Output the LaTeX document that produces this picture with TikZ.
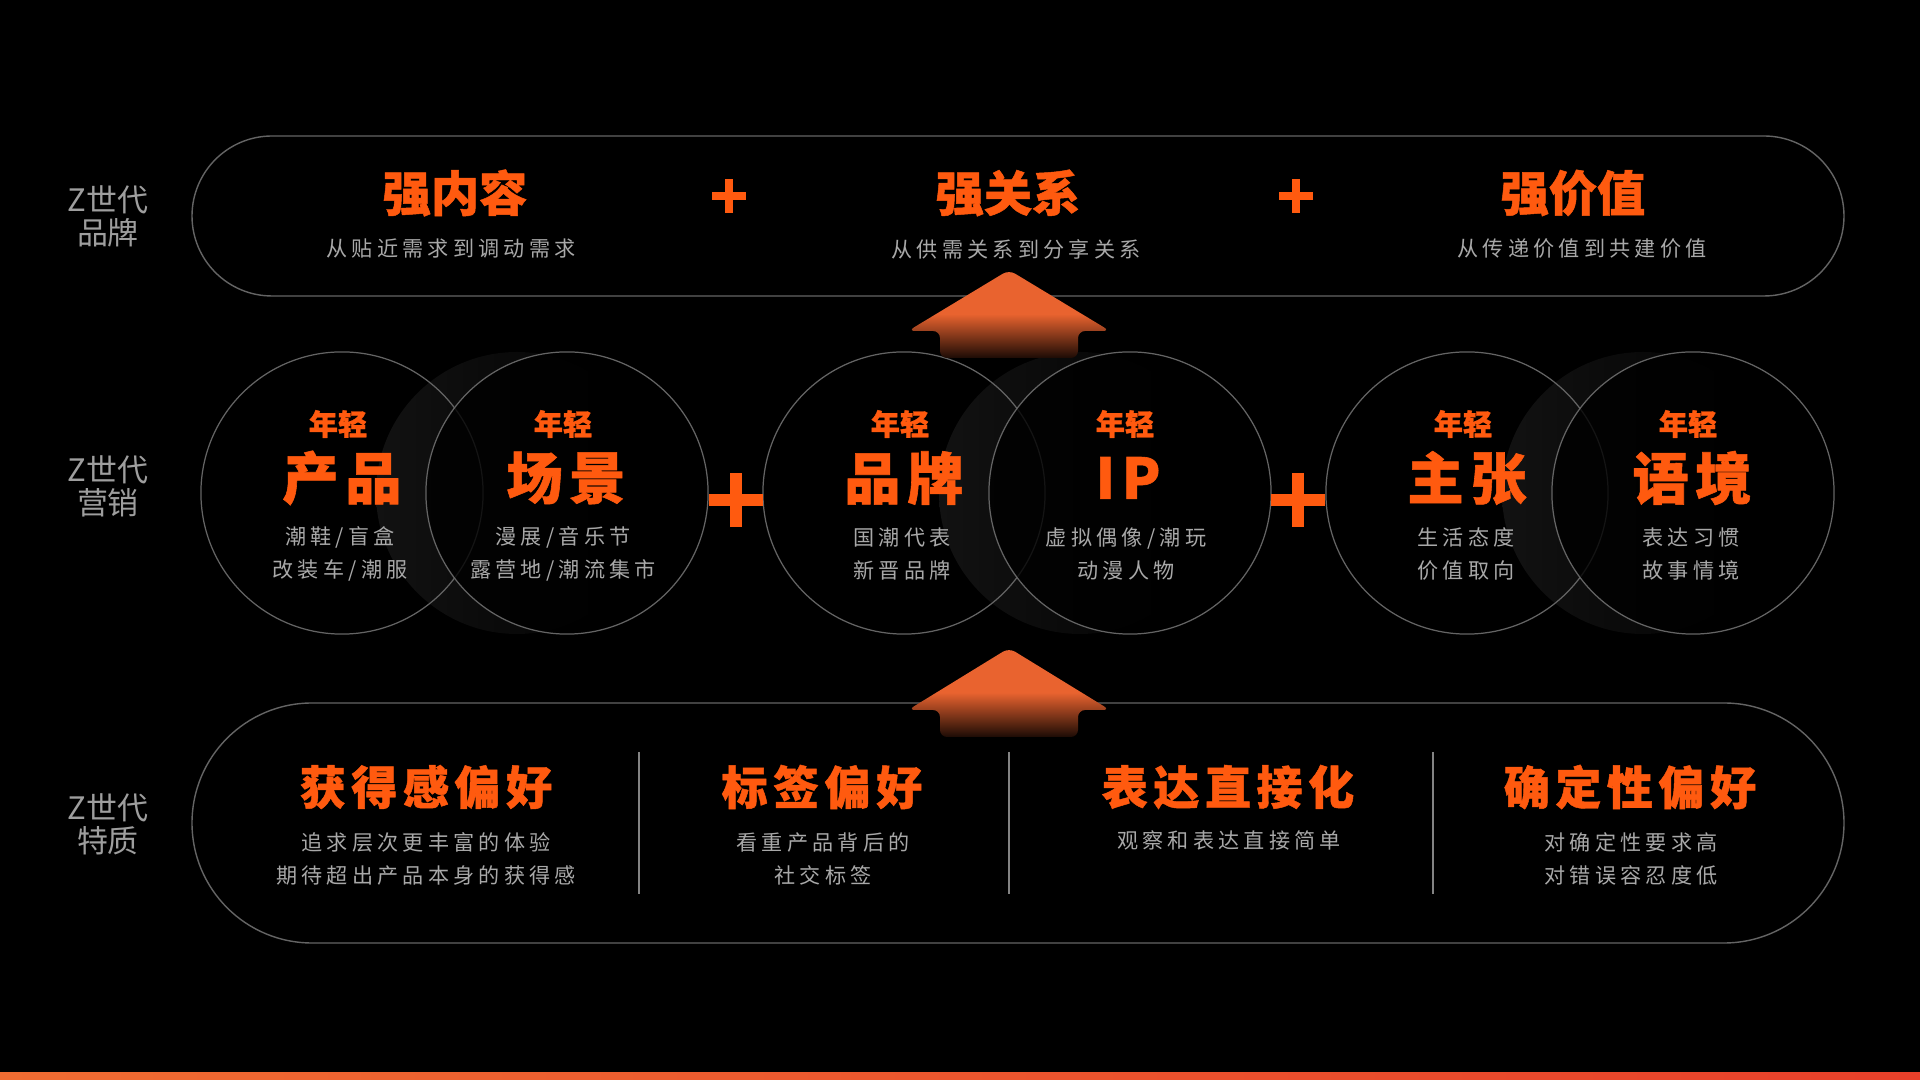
\documentclass[tikz,border=0pt]{standalone}
\usepackage{fontspec}
\newfontfamily\cjk{Noto Sans CJK SC}
\newfontfamily\cjkwide{Noto Sans CJK SC}[LetterSpace=20]
\newfontfamily\cjkheavy{Noto Sans CJK SC}[BoldFeatures={FakeBold=1}]
\newfontfamily\cjkmid{Noto Sans CJK SC}[LetterSpace=12, BoldFeatures={FakeBold=1}]
\definecolor{zorange}{HTML}{FF5A0F}
\definecolor{zarrow}{HTML}{E9632F}
\definecolor{zdark}{HTML}{1C0B05}
\definecolor{ztext}{HTML}{A8A8A8}
\definecolor{zlabel}{HTML}{9E9E9E}
\definecolor{zline}{HTML}{646464}
\definecolor{zshadow}{HTML}{121212}
\definecolor{zbarL}{HTML}{F06C32}
\definecolor{zbarR}{HTML}{E8402A}
\pgfdeclareverticalshading{arrowfade}{100bp}{color(0bp)=(zdark); color(25bp)=(zdark); color(50bp)=(zarrow); color(100bp)=(zarrow)}
\tikzset{
  plussign/.pic={
    \fill[zorange] (-#1/2,-0.11*#1) rectangle (#1/2,0.11*#1);
    \fill[zorange] (-0.11*#1,-#1/2) rectangle (0.11*#1,#1/2);
  }
}
\begin{document}
\begin{tikzpicture}[x=0.01cm, y=-0.01cm,
  toptitle/.style={text=zorange, inner sep=0, font=\cjkheavy\bfseries\fontsize{13.7pt}{16pt}\selectfont},
  bottomtitle/.style={text=zorange, inner sep=0, font=\cjkmid\bfseries\fontsize{13.1pt}{16pt}\selectfont},
  youngtag/.style={text=zorange, inner sep=0, font=\cjkheavy\bfseries\fontsize{8.3pt}{10pt}\selectfont},
  circletitle/.style={text=zorange, inner sep=0, font=\cjkmid\bfseries\fontsize{16pt}{19pt}\selectfont},
  subtext/.style={text=ztext, inner sep=0, align=center, font=\cjkwide\fontsize{6pt}{9.6pt}\selectfont},
  sidelabel/.style={text=zlabel, inner sep=0, align=center, font=\cjk\fontsize{8.8pt}{9.4pt}\selectfont},
  ring/.style={circle, draw=zline, line width=0.35pt, minimum size=2.82cm, inner sep=0},
  shadowdisc/.style={left color=zshadow, middle color=black, right color=black},
  pill/.style={draw=zline, line width=0.4pt},
  divider/.style={draw=zline!80, line width=0.4pt}]
\fill[black] (0,0) rectangle (1920,1080);
\useasboundingbox (0,0) rectangle (1920,1080);
% side labels
\node[sidelabel] (lbrand) at (108,216) {Z世代\\品牌};
\node[sidelabel] (lmarket) at (108,486) {Z世代\\营销};
\node[sidelabel] (ltrait) at (108,824) {Z世代\\特质};
% brand pill
\draw[pill, rounded corners=0.8cm] (192,136) rectangle (1844,296);
\node[toptitle] (content) at (455,193) {强内容};
\node[subtext] (contentsub) at (451,249) {从贴近需求到调动需求};
\pic at (729,196) {plussign=34};
\node[toptitle] (relation) at (1008,193) {强关系};
\node[subtext] (relationsub) at (1016,249) {从供需关系到分享关系};
\pic at (1296,196) {plussign=34};
\node[toptitle] (value) at (1573,193) {强价值};
\node[subtext] (valuesub) at (1582,249) {从传递价值到共建价值};
% marketing circles: shadows
\fill[shadowdisc] (517,493) circle (141);
\fill[shadowdisc] (1080,493) circle (141);
\fill[shadowdisc] (1643,493) circle (141);
% marketing circles
\node[ring] (cproduct) at (342,493) {};
\node[ring, fill=black, fill opacity=0.8] (cscene) at (567,493) {};
\node[ring] (cbrand) at (904,493) {};
\node[ring, fill=black, fill opacity=0.8] (cip) at (1130,493) {};
\node[ring] (cclaim) at (1467,493) {};
\node[ring, fill=black, fill opacity=0.8] (ccontext) at (1693,493) {};
\pic at (736,500) {plussign=54};
\pic at (1298,500) {plussign=54};
% circle texts
\node[youngtag] (yproduct) at (338,424) {年轻};
\node[circletitle] (tproduct) at (342,478) {产品};
\node[subtext] (sproduct) at (340,554) {潮鞋/盲盒\\改装车/潮服};
\node[youngtag] (yscene) at (563,424) {年轻};
\node[circletitle] (tscene) at (566,478) {场景};
\node[subtext] (sscene) at (563,554) {漫展/音乐节\\露营地/潮流集市};
\node[youngtag] (ybrand) at (900,424) {年轻};
\node[circletitle] (tbrand) at (904,478) {品牌};
\node[subtext] (sbrand) at (902,554) {国潮代表\\新晋品牌};
\node[youngtag] (yip) at (1125,424) {年轻};
\node[circletitle] (tip) at (1128,478) {IP};
\node[subtext] (sip) at (1126,554) {虚拟偶像/潮玩\\动漫人物};
\node[youngtag] (yclaim) at (1463,424) {年轻};
\node[circletitle] (tclaim) at (1467,478) {主张};
\node[subtext] (sclaim) at (1466,554) {生活态度\\价值取向};
\node[youngtag] (ycontext) at (1688,424) {年轻};
\node[circletitle] (tcontext) at (1692,478) {语境};
\node[subtext] (scontext) at (1691,554) {表达习惯\\故事情境};
% trait pill
\draw[pill, rounded corners=1.2cm] (192,703) rectangle (1844,943);
\draw[divider] (639,752) -- (639,894);
\draw[divider] (1009,752) -- (1009,894);
\draw[divider] (1433,752) -- (1433,894);
\node[bottomtitle] (gain) at (426,787) {获得感偏好};
\node[subtext] (gainsub) at (426,859) {追求层次更丰富的体验\\期待超出产品本身的获得感};
\node[bottomtitle] (tag) at (822,787) {标签偏好};
\node[subtext] (tagsub) at (823,859) {看重产品背后的\\社交标签};
\node[bottomtitle] (direct) at (1228,787) {表达直接化};
\node[subtext] (directsub) at (1229,840) {观察和表达直接简单};
\node[bottomtitle] (certain) at (1630,787) {确定性偏好};
\node[subtext] (certainsub) at (1631,859) {对确定性要求高\\对错误容忍度低};
% arrows
\shade[shading=arrowfade, rounded corners=2pt] (1009,270) -- (1110,331) -- (1078,331)
  -- (1078,358) -- (940,358) -- (940,331) -- (908,331) -- cycle;
\shade[shading=arrowfade, rounded corners=2pt] (1009,648) -- (1110,710) -- (1078,710)
  -- (1078,737) -- (940,737) -- (940,710) -- (908,710) -- cycle;
% bottom bar
\fill[left color=zbarL, right color=zbarR] (0,1073) rectangle (1920,1080);
\end{tikzpicture}
\end{document}
